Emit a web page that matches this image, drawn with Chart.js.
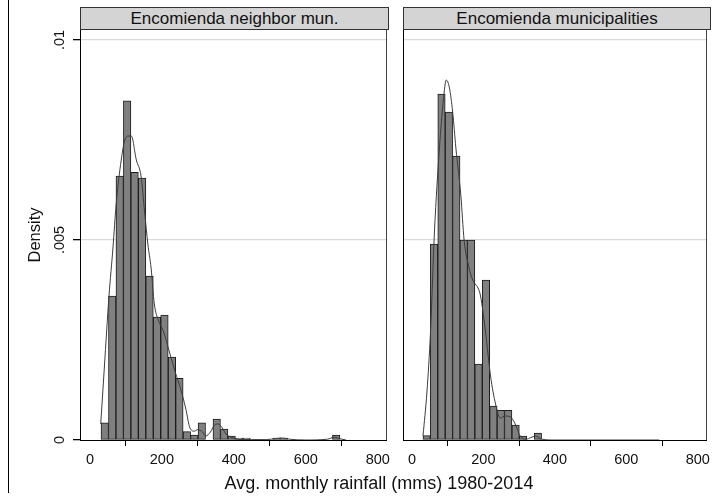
<!DOCTYPE html>
<html>
<head>
<meta charset="utf-8">
<script src="https://cdn.jsdelivr.net/npm/chart.js@4.4.1/dist/chart.umd.min.js"></script>
<style>
  body { margin: 0; background: #fff; font-family: "Liberation Sans", Arial, sans-serif; }
  #wrap { position: relative; width: 715px; height: 497px; overflow: hidden; }
  canvas { position: absolute; top: 0; }
  .strip { position: absolute; top: 7px; height: 23px; box-sizing: border-box; border: 1px solid #333;
           background: #d4d4d4; font-size: 17px; line-height: 21px; text-align: center; color: #111; }
  #frame { position: absolute; left: 8px; top: 0; width: 1px; height: 493px; background: #000; }
  #xtitle { position: absolute; left: 179px; width: 400px; top: 472px; font-size: 18px; line-height: 22px;
            text-align: center; color: #111; }
</style>
</head>
<body>
<div id="wrap">
  <div id="frame"></div>
  <canvas id="left" width="395" height="497" style="left:0"></canvas>
  <canvas id="right" width="320" height="497" style="left:395px"></canvas>
  <div class="strip" style="left:80px;width:309px">Encomienda neighbor mun.</div>
  <div class="strip" style="left:403px;width:308px">Encomienda municipalities</div>
  <div id="xtitle">Avg. monthly rainfall (mms) 1980-2014</div>
</div>
<script>
// histogram bin centres (mms), shared by both panels
const binCenters = [41.2, 61.95, 82.7, 103.45, 124.2, 144.95, 165.7, 186.45, 207.2, 227.95,
  248.7, 269.45, 290.2, 310.95, 331.7, 352.45, 373.2, 393.95, 414.7, 435.45,
  456.2, 476.95, 497.7, 518.45, 539.2, 559.95, 580.7, 601.45, 622.2, 642.95, 663.7, 684.45];

// densities
const neighborDensity = [0.00043, 0.0036, 0.0066, 0.00848, 0.00669, 0.00655, 0.0041, 0.00307,
  0.00312, 0.00207, 0.00154, 0.00021, 0.000125, 0.00043, 0, 0.000525, 0.000275, 0.0001,
  0.00005, 0.00005, 0, 0, 0, 0.00005, 0.00005, 0, 0, 0, 0, 0, 0, 0.00012];
const encomDensity = [0.00011, 0.0049, 0.00865, 0.0082, 0.0071, 0.0050, 0.0050, 0.0019,
  0.0040, 0.00085, 0.00074, 0.00074, 0.000375, 0.0001, 0, 0.00017];

// kernel density curves
const neighborKdeX = [30, 40, 53, 64, 73, 87, 97, 106, 115, 129, 142, 152, 161, 170, 179, 190, 205, 221,
  237, 253, 266, 278, 290, 300, 313, 322, 335, 347, 357, 368, 378, 390, 405, 420, 450, 490, 520, 535,
  555, 600, 660, 680, 695, 712];
const neighborKdeY = [0.0004, 0.0018, 0.0036, 0.0048, 0.0059, 0.007, 0.0075, 0.0076, 0.0076, 0.007,
  0.0066, 0.0057, 0.0049, 0.0043, 0.0034, 0.003, 0.0027, 0.0022, 0.0017, 0.00125, 0.0008, 0.0003,
  0.00022, 0.00026, 0.0002, 0.0001, 0.0002, 0.00038, 0.0004, 0.0003, 0.00015, 0.00008, 0.00003,
  0.00001, 0.00001, 0.00001, 0.00004, 0.00005, 0.00002, 0, 0.00002, 0.00007, 0.00003, 0];
const encomKdeX = [31, 42, 52, 63, 77, 88, 96, 105, 114, 123, 137, 146, 160, 170, 177, 185, 192, 206,
  220, 234, 247, 261, 275, 289, 303, 320, 333, 345, 364, 400, 500, 600, 692];
const encomKdeY = [0.0001, 0.0012, 0.0027, 0.0052, 0.0073, 0.0085, 0.009, 0.0088, 0.0082, 0.0073,
  0.0061, 0.005, 0.0043, 0.004, 0.0039, 0.0038, 0.0036, 0.0027, 0.0016, 0.0009, 0.00055, 0.0006,
  0.00058, 0.0004, 0.0001, 0.00002, 0.00006, 0.0001, 0.00002, 0, 0, 0, 0];

const xTicks = [0, 200, 400, 600, 800];
const yTicks = [0, 0.005, 0.01];
const yTickLabels = ['0', '.005', '.01'];

Chart.defaults.font.family = '"Liberation Sans", Arial, sans-serif';
Chart.defaults.color = '#111';

const boxPlugin = {
  id: 'box',
  afterDraw(chart) {
    const a = chart.chartArea, ctx = chart.ctx;
    ctx.save();
    ctx.strokeStyle = '#444';
    ctx.lineWidth = 1;
    ctx.beginPath();
    ctx.moveTo(Math.round(a.right) - 0.5, a.top);
    ctx.lineTo(Math.round(a.right) - 0.5, a.bottom);
    ctx.stroke();
    ctx.restore();
  }
};

function makePanel(id, heights, kx, ky, showY, xmin, pad) {
  const bars = heights.map((v, i) => ({ x: binCenters[i], y: v }));
  const kde = kx.map((x, i) => ({ x: x, y: ky[i] }));
  new Chart(document.getElementById(id), {
    type: 'bar',
    data: {
      datasets: [
        { type: 'line', data: kde, borderColor: '#3c3c3c', borderWidth: 1, pointRadius: 0,
          cubicInterpolationMode: 'monotone', fill: false },
        { type: 'bar', data: bars, backgroundColor: '#808080', borderColor: '#1c1c1c', borderWidth: 1,
          borderSkipped: false, barPercentage: 1, categoryPercentage: 1 }
      ]
    },
    options: {
      responsive: false,
      animation: false,
      layout: { padding: pad },
      plugins: { legend: { display: false }, tooltip: { enabled: false } },
      scales: {
        x: {
          type: 'linear', min: xmin, max: 825, offset: false,
          afterBuildTicks: s => { s.ticks = xTicks.map(v => ({ value: v })); },
          afterFit: s => { s.height = 57; },
          ticks: { font: { size: 14.5 }, padding: 5, maxRotation: 0, color: '#111' },
          grid: { drawOnChartArea: false, tickLength: 6, tickColor: '#000' },
          border: { color: '#000', width: 1 }
        },
        y: {
          min: 0, max: 0.01025,
          afterBuildTicks: s => { s.ticks = yTicks.map(v => ({ value: v })); },
          afterFit: s => { s.width = showY ? 80 : 8; },
          ticks: {
            display: showY, font: { size: 14.5 }, padding: -1, minRotation: 90, maxRotation: 90,
            crossAlign: 'center', color: '#111',
            callback: v => yTickLabels[yTicks.indexOf(v)]
          },
          title: { display: showY, text: 'Density', font: { size: 16.5 }, padding: { top: 26 }, color: '#111' },
          grid: {
            color: c => (c.tick && c.tick.value === 0) ? 'rgba(0,0,0,0)' : '#dadada',
            lineWidth: 1.3, drawTicks: showY, tickLength: 7, tickColor: '#000'
          },
          border: { color: '#000', width: 1 }
        }
      }
    },
    plugins: [boxPlugin]
  });
}

makePanel('left', neighborDensity, neighborKdeX, neighborKdeY, true, -27.6, { top: 30, right: 6, bottom: 0, left: 0 });
makePanel('right', encomDensity, encomKdeX, encomKdeY, false, -25, { top: 30, right: 4, bottom: 0, left: 0 });
</script>
</body>
</html>
